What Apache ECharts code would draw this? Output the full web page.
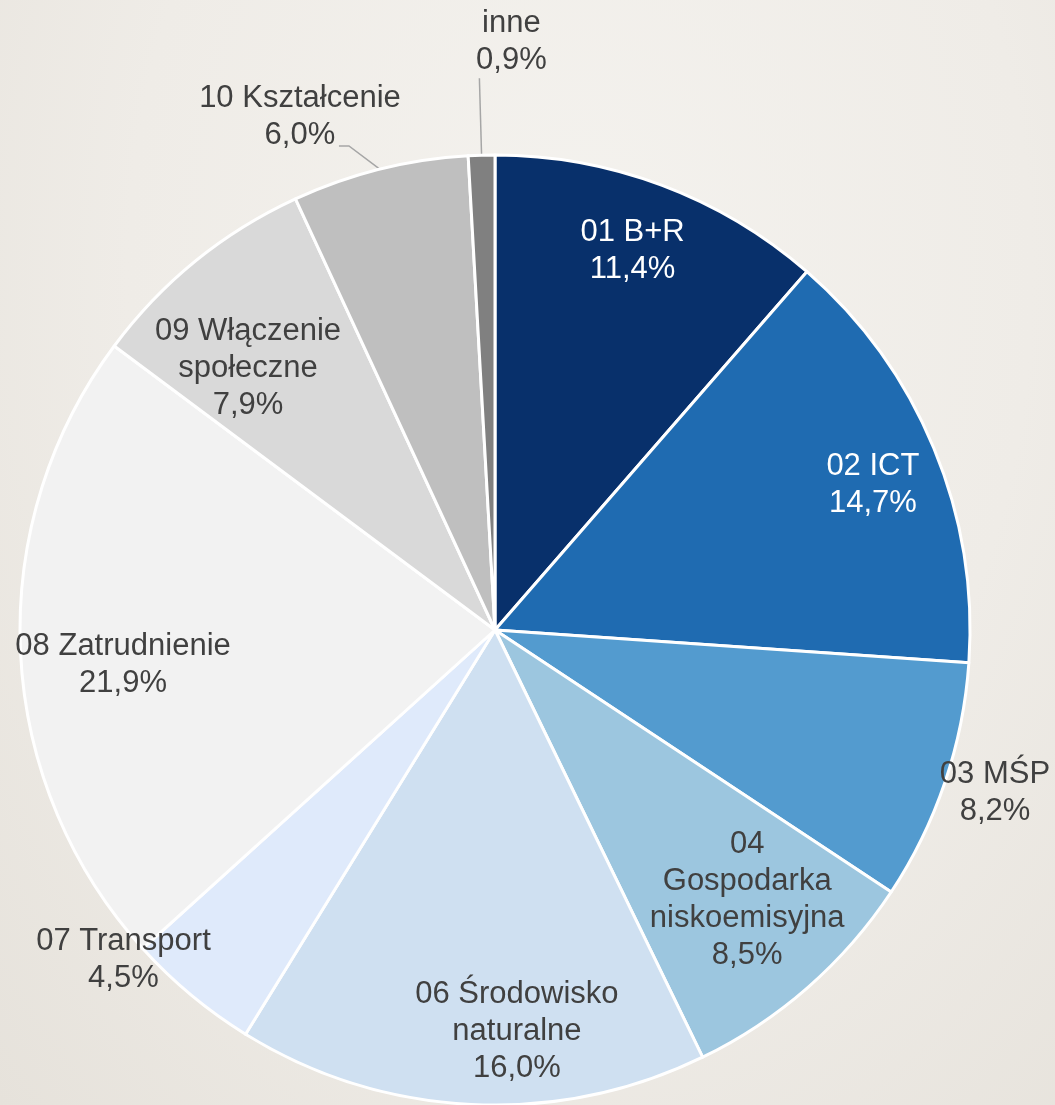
<!DOCTYPE html>
<html>
<head>
<meta charset="utf-8">
<script src="https://cdn.jsdelivr.net/npm/echarts@6/dist/echarts.min.js"></script>
<style>
  html, body { margin: 0; padding: 0; }
  body {
    width: 1055px;
    height: 1105px;
    background: radial-gradient(ellipse at 55% 25%, #f4f2ee 0%, #efece7 55%, #e6e2db 100%);
  }
  #chart { width: 1055px; height: 1105px; }
</style>
</head>
<body>
<div id="chart"></div>
<script>
// categories as wrapped in the original labels
const categories = [
  "01 B+R",
  "02 ICT",
  "03 MŚP",
  "04\nGospodarka\nniskoemisyjna",
  "06 Środowisko\nnaturalne",
  "07 Transport",
  "08 Zatrudnienie",
  "09 Włączenie\nspołeczne",
  "10 Kształcenie",
  "inne",
];
const shares = [11.4, 14.7, 8.2, 8.5, 16.0, 4.5, 21.9, 7.9, 6.0, 0.9];
const sliceColors = [
  "#08306b", "#1f6bb1", "#539bcf", "#9cc6df", "#cfe0f1",
  "#dfeafb", "#f2f2f2", "#d9d9d9", "#bfbfbf", "#808080",
];

const CENTER = [495, 630];
const RADIUS = 475;

// label placement: k = distance from centre as a share of radius, dx/dy = fine offset
const labelPlace = [
  { k: 0.85, dx: -4, dy: -1 },
  { k: 0.852, dx: 4, dy: 10 },
  { k: 1.107, dx: 2, dy: -6 },
  { k: 0.777, dx: 9, dy: -8 },
  { k: 0.841, dx: 42, dy: 2 },
  { k: 1.035, dx: -57, dy: -48 },
  { k: 0.786, dx: 1, dy: 17 },
  { k: 0.755, dx: -21, dy: 17 },
  { outside: true, dx: -34, dy: -29, bend: 10 },
  { outside: true, dx: 37, dy: -36 },
];

const chart = echarts.init(document.getElementById("chart"));

const data = categories.map((name, i) => {
  const item = {
    name: name,
    value: shares[i],
    itemStyle: { color: sliceColors[i] },
    label: { color: i < 2 ? "#ffffff" : "#404040" },
  };
  if (labelPlace[i].outside) {
    item.label.position = "outside";
    item.labelLine = i === 8 ? { show: true, length: 24, length2: 35 } : { show: true, length: 77, length2: 0 };
  }
  return item;
});

chart.setOption({
  animation: false,
  backgroundColor: "transparent",
  series: [
    {
      type: "pie",
      center: CENTER,
      radius: RADIUS,
      startAngle: 90,
      clockwise: true,
      avoidLabelOverlap: false,
      itemStyle: { borderColor: "#ffffff", borderWidth: 3 },
      label: {
        show: true,
        position: "inside",
        fontFamily: "Liberation Sans, Arial, sans-serif",
        fontSize: 31,
        lineHeight: 37,
        align: "center",
        formatter: (p) => p.name + "\n" + p.value.toFixed(1).replace(".", ",") + "%",
      },
      labelLine: {
        lineStyle: { color: "#a6a6a6", width: 1.5 },
      },
      emphasis: { disabled: true },
      labelLayout: function (p) {
        const pl = labelPlace[p.dataIndex];
        if (pl.outside) {
          const pts = p.labelLinePoints.map((q) => q.slice());
          // excel-style leader: slanted first leg, short horizontal tail
          if (pl.bend) pts[1] = [pts[2][0] + pl.bend, pts[2][1]];
          return { dx: pl.dx, dy: pl.dy, align: "center", labelLinePoints: pts };
        }
        const r = p.labelRect;
        const vx = r.x + r.width / 2 - CENTER[0];
        const vy = r.y + r.height / 2 - CENTER[1];
        const len = Math.hypot(vx, vy);
        return {
          x: CENTER[0] + (vx / len) * pl.k * RADIUS + pl.dx,
          y: CENTER[1] + (vy / len) * pl.k * RADIUS + pl.dy,
        };
      },
      data: data,
    },
  ],
});
</script>
</body>
</html>
